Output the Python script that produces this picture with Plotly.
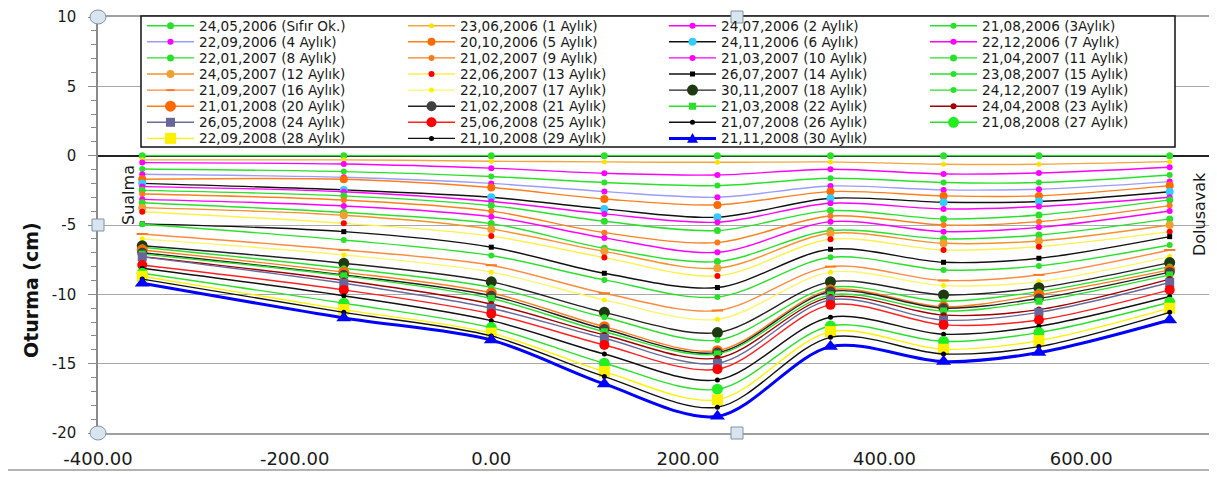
import plotly.graph_objects as go

# ---------------- data ----------------
stations = [-355, -150, 0, 115, 230, 345, 460, 557, 690]

series_names = [
    "24,05,2006 (Sıfır Ok.)", "23,06,2006 (1 Aylık)", "24,07,2006 (2 Aylık)", "21,08,2006 (3Aylık)",
    "22,09,2006 (4 Aylık)", "20,10,2006 (5 Aylık)", "24,11,2006 (6 Aylık)", "22,12,2006 (7 Aylık)",
    "22,01,2007 (8 Aylık)", "21,02,2007 (9 Aylık)", "21,03,2007 (10 Aylık)", "21,04,2007 (11 Aylık)",
    "24,05,2007 (12 Aylık)", "22,06,2007 (13 Aylık)", "26,07,2007 (14 Aylık)", "23,08,2007 (15 Aylık)",
    "21,09,2007 (16 Aylık)", "22,10,2007 (17 Aylık)", "30,11,2007 (18 Aylık)", "24,12,2007 (19 Aylık)",
    "21,01,2008 (20 Aylık)", "21,02,2008 (21 Aylık)", "21,03,2008 (22 Aylık)", "24,04,2008 (23 Aylık)",
    "26,05,2008 (24 Aylık)", "25,06,2008 (25 Aylık)", "21,07,2008 (26 Aylık)", "21,08,2008 (27 Aylık)",
    "22,09,2008 (28 Aylık)", "21,10,2008 (29 Aylık)", "21,11,2008 (30 Aylık)",
]

m00 = [0, 0, 0, 0, 0, 0, 0, 0, 0]
m01 = [-0.3, -0.3, -0.4, -0.45, -0.48, -0.45, -0.62, -0.62, -0.43]
m02 = [-0.5, -0.6, -0.9, -1.27, -1.39, -0.98, -1.32, -1.25, -0.84]
m03 = [-0.96, -1.15, -1.5, -1.94, -2.16, -1.63, -1.94, -1.94, -1.39]
m04 = [-1.34, -1.56, -2.0, -2.59, -3.0, -2.19, -2.47, -2.42, -1.87]
m05 = [-1.7, -1.7, -2.3, -3.12, -3.55, -2.59, -2.9, -2.9, -2.16]
m06 = [-2.0, -2.47, -3.0, -3.84, -4.44, -3.07, -3.36, -3.31, -2.6]
m07 = [-2.23, -2.6, -3.3, -4.2, -4.8, -3.43, -3.84, -3.67, -3.0]
m08 = [-2.5, -2.9, -3.6, -4.73, -5.4, -3.96, -4.56, -4.28, -3.19]
m09 = [-2.76, -3.2, -4.0, -5.55, -6.27, -4.35, -5.0, -4.76, -3.6]
m10 = [-3.15, -3.63, -4.4, -5.93, -6.97, -4.76, -5.48, -5.17, -3.99]
m11 = [-3.4, -4.1, -4.9, -6.68, -7.64, -5.4, -6.0, -5.72, -4.56]
m12 = [-3.75, -4.3, -5.3, -6.9, -8.12, -5.6, -6.32, -6.15, -5.0]
m13 = [-4.04, -4.88, -5.8, -7.35, -8.67, -6.03, -6.8, -6.56, -5.48]
m14 = [-4.92, -5.48, -6.6, -8.48, -9.51, -6.75, -7.69, -7.4, -5.84]
m15 = [-4.95, -6.08, -7.2, -8.96, -10.2, -7.33, -8.24, -7.95, -6.44]
m16 = [-5.65, -6.8, -7.9, -9.92, -11.17, -8.0, -9.0, -8.6, -6.8]
m17 = [-6.0, -7.16, -8.4, -10.4, -11.8, -8.4, -9.37, -9.08, -7.28]
m18 = [-6.5, -7.76, -9.1, -11.3, -12.76, -9.1, -10.04, -9.52, -7.71]
m19 = [-6.6, -8.12, -9.5, -11.65, -13.3, -9.5, -10.5, -9.8, -8.0]
m20 = [-6.8, -8.4, -9.9, -12.33, -14.06, -9.68, -10.9, -10.04, -8.24]
m21 = [-7.0, -8.6, -10.1, -12.5, -14.2, -9.8, -11.0, -10.3, -8.4]
m22 = [-7.1, -8.67, -10.3, -12.7, -14.3, -10.04, -11.2, -10.5, -8.6]
m23 = [-7.28, -9.0, -10.7, -12.93, -14.6, -10.2, -11.5, -11.1, -8.9]
m24 = [-7.3, -9.2, -11.0, -13.17, -14.97, -10.4, -11.86, -11.3, -9.15]
m25 = [-7.88, -9.68, -11.4, -13.65, -15.4, -10.76, -12.2, -11.85, -9.68]
m26 = [-8.12, -10.1, -11.9, -14.3, -16.17, -11.65, -12.88, -12.3, -10.16]
m27 = [-8.48, -10.64, -12.4, -14.97, -16.84, -12.28, -13.4, -12.76, -10.57]
m28 = [-8.7, -11.1, -12.8, -15.57, -17.6, -12.69, -13.96, -13.34, -11.0]
m29 = [-8.9, -11.3, -13.0, -15.93, -18.14, -13.1, -14.3, -13.77, -11.3]
m30 = [-9.2, -11.7, -13.3, -16.46, -18.8, -13.77, -14.85, -14.2, -11.85]

series_values = [m00, m01, m02, m03, m04, m05, m06, m07, m08, m09, m10, m11, m12, m13, m14, m15,
                 m16, m17, m18, m19, m20, m21, m22, m23, m24, m25, m26, m27, m28, m29, m30]

y_tick_vals = [10, 5, 0, -5, -10, -15, -20]
y_tick_text = ["10", "5", "0", "-5", "-10", "-15", "-20"]
x_tick_vals = [-400, -200, 0, 200, 400, 600]
x_tick_text = ["-400.00", "-200.00", "0.00", "200.00", "400.00", "600.00"]

# ---------------- styles ----------------
GRN = "#2BE02B"
MAG = "#FF00FF"
ORG = "#FF7F1E"
line_colors = [GRN, "#F2A640", MAG, GRN, "#9C9CFF", ORG, "#111111", MAG,
               GRN, ORG, MAG, GRN, "#F5922A", "#FFF04A", "#111111", GRN,
               "#FF8A3D", "#FFF46A", "#222222", GRN, ORG, "#222222", GRN, "#A00000",
               "#6A6A9A", "#FF2020", "#111111", GRN, "#FFF200", "#111111", "#0000FF"]
marker_colors = [GRN, "#FFE000", MAG, GRN, MAG, "#FF6A00", "#33CCFF", MAG,
                 GRN, "#FF7A1A", MAG, GRN, "#F0A030", "#FF0000", "#000000", GRN,
                 "#FF7A1A", "#FFF000", "#1F3A10", GRN, "#FF6A00", "#404040", GRN, "#A00000",
                 "#66669A", "#FF0000", "#000000", "#22EE22", "#FFF000", "#000000", "#0000FF"]
marker_symbols = ["circle", "circle", "circle", "circle", "circle", "circle", "circle", "circle",
                  "circle", "circle", "circle", "circle", "circle", "circle", "square", "circle",
                  "line-ew", "circle", "circle", "circle", "circle", "circle", "square", "circle",
                  "square", "circle", "circle", "circle", "square", "circle", "triangle-up"]
marker_sizes = [7, 5, 6, 6, 6, 8, 8, 6, 7, 6, 6, 7, 8, 6, 5, 6,
                8, 5, 11, 6, 11, 10, 7, 6, 9, 10, 5, 11, 11, 5, 13]
line_widths = [1.4] * 30 + [3]

# ---------------- geometry ----------------
# Reference-page pixel coordinates; the page body adds an 8 px offset.
OFF = 8
W, H = 1217 - OFF, 477 - OFF
PX_L, PX_R, PX_T, PX_B = 98, 1210, 17, 433


def px(v):
    return (v - PX_L) / (PX_R - PX_L)


def py(v):
    return (PX_B - v) / (PX_B - PX_T)


FONT = "DejaVu Sans"

fig = go.Figure()
for i, vals in enumerate(series_values):
    sym = marker_symbols[i]
    mk = dict(symbol=sym, size=marker_sizes[i], color=marker_colors[i],
              line=dict(width=2 if sym == "line-ew" else 0, color=marker_colors[i]))
    fig.add_trace(go.Scatter(
        x=stations, y=vals, mode="lines+markers", name=series_names[i],
        line=dict(color=line_colors[i], width=line_widths[i], shape="spline", smoothing=0.9),
        marker=mk, showlegend=False))

shapes = []
annotations = []

# outer border
shapes.append(dict(type="rect", xref="paper", yref="paper", x0=px(5), x1=px(1212), y0=py(470), y1=py(3),
                   line=dict(color="#9A9A9A", width=1.5), layer="below"))

# legend box
LEG_L, LEG_R, LEG_T, LEG_B = 141, 1175, 16, 147
shapes.append(dict(type="rect", xref="paper", yref="paper", x0=px(LEG_L), x1=px(LEG_R), y0=py(LEG_B), y1=py(LEG_T),
                   line=dict(color="#111111", width=1.5), fillcolor="white", layer="above"))
ROW0, PITCH, COL0, COLW, LLEN = 25.7, 16.1, 147, 261, 47


def marker_shape(sym, color, size, xa, ya):
    h = size / 2.0
    d = dict(xref="paper", yref="paper", xsizemode="pixel", ysizemode="pixel", xanchor=xa, yanchor=ya,
             layer="above", fillcolor=color, line=dict(width=0, color=color))
    if sym == "circle":
        d.update(type="circle", x0=-h, x1=h, y0=-h, y1=h)
    elif sym == "square":
        d.update(type="rect", x0=-h, x1=h, y0=-h, y1=h)
    elif sym == "triangle-up":
        d.update(type="path", path=f"M{-h},{-h * 0.8} L{h},{-h * 0.8} L0,{h} Z")
    else:
        d.update(type="line", x0=-h, x1=h, y0=0, y1=0, line=dict(width=2, color=color))
    return d


for i, name in enumerate(series_names):
    r, c = divmod(i, 4)
    yc = ROW0 + r * PITCH
    xl = COL0 + c * COLW
    xr = xl + LLEN
    shapes.append(dict(type="line", xref="paper", yref="paper", x0=px(xl), x1=px(xr), y0=py(yc), y1=py(yc),
                       line=dict(color=line_colors[i], width=line_widths[i]), layer="above"))
    shapes.append(marker_shape(marker_symbols[i], marker_colors[i], min(marker_sizes[i], 11),
                               px((xl + xr) / 2), py(yc)))
    annotations.append(dict(text=name, x=px(xr + 4), y=py(yc), xref="paper", yref="paper",
                            xanchor="left", yanchor="middle", showarrow=False, borderpad=0,
                            font=dict(family=FONT, size=13.6, color="#1A1A1A")))

# selection handles (decorative)
HFILL, HLINE = "#D9E5EE", "#7F93A6"
for (hx, hy) in [(98, 17), (98, 433)]:
    shapes.append(dict(type="circle", xref="paper", yref="paper", xsizemode="pixel", ysizemode="pixel",
                       xanchor=px(hx), yanchor=py(hy), x0=-8, x1=8, y0=-7, y1=7,
                       fillcolor=HFILL, line=dict(color=HLINE, width=1), layer="above"))
for (hx, hy) in [(98, 225), (737, 17), (737, 433)]:
    shapes.append(dict(type="rect", xref="paper", yref="paper", xsizemode="pixel", ysizemode="pixel",
                       xanchor=px(hx), yanchor=py(hy), x0=-6, x1=6, y0=-6, y1=6,
                       fillcolor=HFILL, line=dict(color=HLINE, width=1), layer="above"))

# side texts
annotations.append(dict(text="Sualma", x=px(128), y=py(195), xref="paper", yref="paper", textangle=-90,
                        xanchor="center", yanchor="middle",
                        showarrow=False, font=dict(family=FONT, size=16, color="#1A1A1A")))
annotations.append(dict(text="Dolusavak", x=px(1199), y=py(214), xref="paper", yref="paper", textangle=-90,
                        xanchor="center", yanchor="middle",
                        showarrow=False, font=dict(family=FONT, size=16, color="#1A1A1A")))
annotations.append(dict(text="<b>Oturma (cm)</b>", x=px(31), y=py(290), xref="paper", yref="paper",
                        xanchor="center", yanchor="middle",
                        textangle=-90, showarrow=False, font=dict(family=FONT, size=19, color="#111111")))

fig.update_layout(
    width=W, height=H,
    margin=dict(l=PX_L - OFF, r=W - (PX_R - OFF), t=PX_T - OFF, b=H - (PX_B - OFF), pad=0, autoexpand=False),
    paper_bgcolor="white", plot_bgcolor="white",
    showlegend=False,
    shapes=shapes, annotations=annotations,
    xaxis=dict(range=[-400, 731], tickmode="array", tickvals=x_tick_vals, ticktext=x_tick_text,
               automargin=False,
               showgrid=False, zeroline=False, showline=True, mirror=True, linecolor="#A0A0A0", linewidth=2,
               ticks="", ticklabelstandoff=8, ticklabeloverflow="allow",
               tickfont=dict(family=FONT, size=18, color="#1A1A1A")),
    yaxis=dict(range=[-20, 10], tickmode="array", tickvals=y_tick_vals, ticktext=y_tick_text,
               automargin=False,
               showgrid=True, gridcolor="#A8A8A8", gridwidth=1.2,
               zeroline=True, zerolinecolor="#222222", zerolinewidth=1.6,
               showline=True, linecolor="#8A8A8A", linewidth=1.5,
               ticks="outside", ticklen=8, tickcolor="#8A8A8A", tickwidth=1.2,
               minor=dict(tickmode="linear", dtick=1, ticks="outside", ticklen=5, tickcolor="#8A8A8A", showgrid=False),
               ticklabelstandoff=9, ticklabeloverflow="allow",
               tickfont=dict(family=FONT, size=15, color="#1A1A1A")),
)

fig.write_html("out.html")
